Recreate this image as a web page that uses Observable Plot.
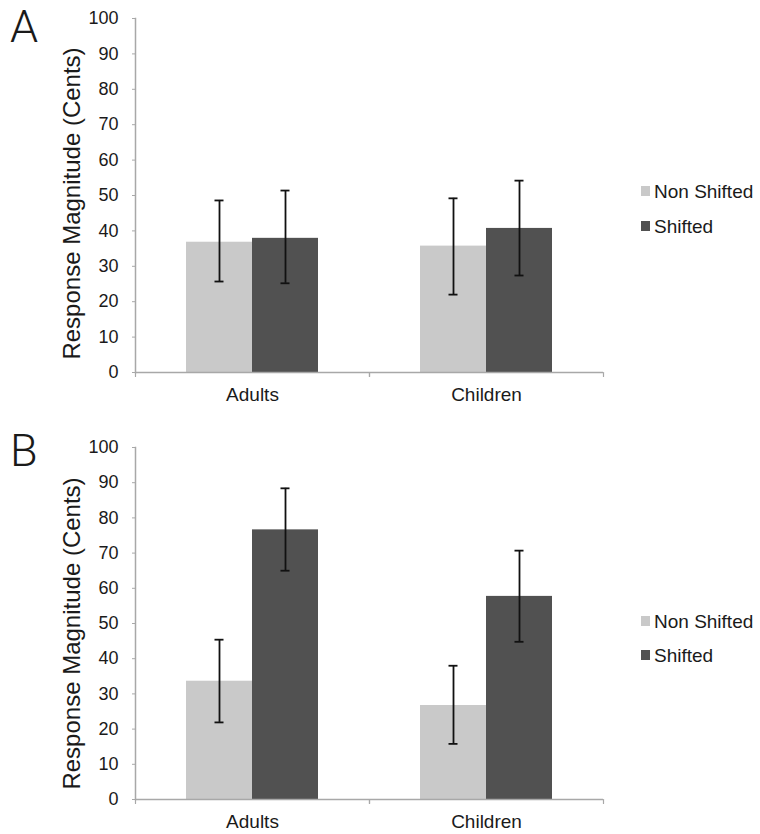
<!DOCTYPE html>
<html><head><meta charset="utf-8">
<script src="https://cdn.jsdelivr.net/npm/d3@7"></script>
<script src="https://cdn.jsdelivr.net/npm/@observablehq/plot@0.6"></script>
<style>
body{margin:0;background:#fff;font-family:"Liberation Sans",Arial,sans-serif;color:#1a1a1a;}
#wrap{position:relative;width:760px;height:834px;overflow:hidden;}
.panel{position:absolute;left:0;}
.letter{position:absolute;left:10px;font-family:Roboto,"Liberation Sans",sans-serif;font-weight:300;font-size:45px;line-height:45px;}
.legend{position:absolute;left:641px;font-size:19px;}
.legend .row{position:absolute;left:0;white-space:nowrap;display:flex;align-items:center;height:20px;}
.legend .sw{width:9px;height:10px;margin-right:4px;margin-top:-3px;}
</style></head>
<body><div id="wrap"></div>
<script>
const groups = ["Adults", "Children"];
const conditions = ["Non Shifted", "Shifted"];
const colors = ["#c9c9c9", "#515151"];
const yTicks = [0, 10, 20, 30, 40, 50, 60, 70, 80, 90, 100];
const yTitle = "Response Magnitude (Cents)";
const panelLetters = ["A", "B"];

// Panel A
const aNonShiftedMean = [36.8, 35.7];
const aShiftedMean = [37.9, 40.7];
const aNonShiftedLow = [25.7, 22.0];
const aNonShiftedHigh = [48.6, 49.2];
const aShiftedLow = [25.2, 27.4];
const aShiftedHigh = [51.4, 54.2];

// Panel B
const bNonShiftedMean = [33.6, 26.7];
const bShiftedMean = [76.6, 57.7];
const bNonShiftedLow = [21.9, 15.8];
const bNonShiftedHigh = [45.4, 38.0];
const bShiftedLow = [65.0, 44.8];
const bShiftedHigh = [88.4, 70.7];

function rows(nsM, sM, nsL, nsH, sL, sH) {
  const out = [];
  groups.forEach((g, i) => {
    out.push({group: g, condition: conditions[0], mean: nsM[i], low: nsL[i], high: nsH[i]});
    out.push({group: g, condition: conditions[1], mean: sM[i], low: sL[i], high: sH[i]});
  });
  return out;
}

const axisGray = "#a8a8a8";
const downTick = {draw(context, l) { context.moveTo(0, 0); context.lineTo(0, l); }};

function makePanel(data, {height, marginTop, marginBottom, titleDy}) {
  return Plot.plot({
    width: 760, height, marginTop, marginBottom, marginLeft: 135, marginRight: 157,
    style: {fontFamily: "'Liberation Sans', Arial, sans-serif", color: "#1a1a1a", background: "transparent", overflow: "visible"},
    fx: {domain: groups, padding: 0, label: null},
    x: {domain: conditions, paddingInner: 0, paddingOuter: 0.75, axis: null},
    y: {domain: [0, 100]},
    color: {domain: conditions, range: colors},
    marks: [
      Plot.barY(data, {fx: "group", x: "condition", y: "mean", fill: "condition"}),
      Plot.ruleY([0], {stroke: axisGray, strokeWidth: 1.5}),
      Plot.frame({anchor: "left", facetAnchor: "left", stroke: axisGray, strokeWidth: 1.5}),
      Plot.vector(groups, {fx: d => d, frameAnchor: "bottom-left", length: 4, anchor: "start", shape: downTick, stroke: axisGray, strokeWidth: 1.2}),
      Plot.vector(groups, {fx: d => d, frameAnchor: "bottom-right", length: 4, anchor: "start", shape: downTick, stroke: axisGray, strokeWidth: 1.2}),
      Plot.ruleX(data, {fx: "group", x: "condition", y1: "low", y2: "high", stroke: "#111", strokeWidth: 1.8}),
      Plot.tickY(data, {fx: "group", x: "condition", y: "low", stroke: "#111", strokeWidth: 1.8, insetLeft: 28.5, insetRight: 28.5}),
      Plot.tickY(data, {fx: "group", x: "condition", y: "high", stroke: "#111", strokeWidth: 1.8, insetLeft: 28.5, insetRight: 28.5}),
      Plot.axisY({ticks: yTicks, tickSize: 3, tickPadding: 14, fontSize: 18, label: null, stroke: axisGray, fill: "#1a1a1a"}),
      Plot.axisFx({anchor: "bottom", tickSize: 0, tickPadding: 15, fontSize: 19, label: null, fill: "#1a1a1a"}),
      Plot.text([yTitle], {fx: () => groups[0], frameAnchor: "left", textAnchor: "middle", rotate: -90, dx: -63, dy: titleDy, fontSize: 24, fill: "#1a1a1a"})
    ]
  });
}

const wrap = document.getElementById("wrap");
const panels = [
  {data: rows(aNonShiftedMean, aShiftedMean, aNonShiftedLow, aNonShiftedHigh, aShiftedLow, aShiftedHigh),
   top: 0, height: 410, marginTop: 18, marginBottom: 38, titleDy: 8, legendY: [192, 227], letterTop: 4},
  {data: rows(bNonShiftedMean, bShiftedMean, bNonShiftedLow, bNonShiftedHigh, bShiftedLow, bShiftedHigh),
   top: 410, height: 424, marginTop: 37, marginBottom: 35, titleDy: 10, legendY: [622, 656], letterTop: 428}
];

panels.forEach((p, k) => {
  const div = document.createElement("div");
  div.className = "panel";
  div.style.top = p.top + "px";
  div.appendChild(makePanel(p.data, p));
  wrap.appendChild(div);

  const letter = document.createElement("div");
  letter.className = "letter";
  letter.style.top = p.letterTop + "px";
  letter.textContent = panelLetters[k];
  wrap.appendChild(letter);

  const legend = document.createElement("div");
  legend.className = "legend";
  legend.style.top = "0px";
  conditions.forEach((c, i) => {
    const row = document.createElement("div");
    row.className = "row";
    row.style.top = (p.legendY[i] - 10) + "px";
    const sw = document.createElement("span");
    sw.className = "sw";
    sw.style.background = colors[i];
    const t = document.createElement("span");
    t.textContent = c;
    row.appendChild(sw); row.appendChild(t);
    legend.appendChild(row);
  });
  wrap.appendChild(legend);
});
</script></body></html>
